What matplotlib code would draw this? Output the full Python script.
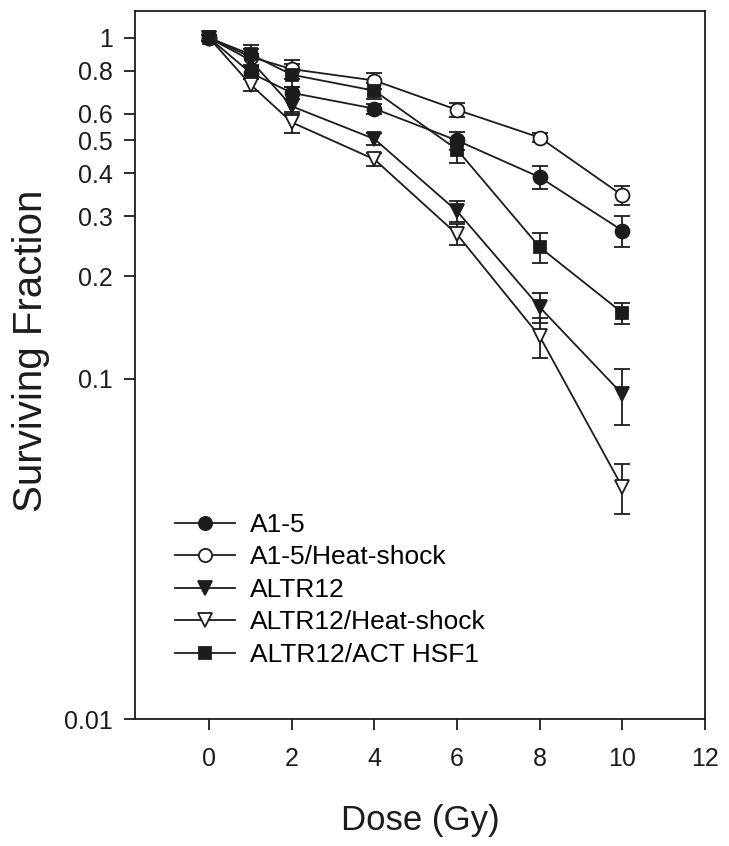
import matplotlib
matplotlib.use("Agg")
import matplotlib.pyplot as plt
from matplotlib.ticker import FixedLocator, FixedFormatter, NullLocator

plt.rcParams['font.family'] = ['Liberation Sans', 'DejaVu Sans']

dose = [0, 1, 2, 4, 6, 8, 10]

a15 = [1.0, 0.79, 0.69, 0.62, 0.50, 0.39, 0.272]
a15_err = [0.02, 0.03, 0.03, 0.02, 0.03, 0.03, 0.028]

a15_hs = [1.0, 0.88, 0.81, 0.75, 0.615, 0.51, 0.345]
a15_hs_err = [0.02, 0.05, 0.05, 0.04, 0.03, 0.015, 0.022]

altr12 = [1.0, 0.86, 0.63, 0.505, 0.31, 0.162, 0.090]
altr12_err = [0.02, 0.04, 0.03, 0.02, 0.022, 0.016, 0.017]

altr12_hs = [1.0, 0.73, 0.565, 0.44, 0.265, 0.133, 0.048]
altr12_hs_err = [0.02, 0.03, 0.04, 0.02, 0.019, 0.018, 0.008]

hsf1 = [1.0, 0.895, 0.78, 0.70, 0.47, 0.243, 0.156]
hsf1_err = [0.02, 0.06, 0.06, 0.04, 0.04, 0.025, 0.011]

labels = ["A1-5", "A1-5/Heat-shock", "ALTR12", "ALTR12/Heat-shock", "ALTR12/ACT HSF1"]
ytick_vals = [0.01, 0.1, 0.2, 0.3, 0.4, 0.5, 0.6, 0.8, 1]
ytick_text = ["0.01", "0.1", "0.2", "0.3", "0.4", "0.5", "0.6", "0.8", "1"]
xtick_vals = [0, 2, 4, 6, 8, 10, 12]

ink = '#1c1c1c'

fig = plt.figure(figsize=(7.29, 8.46), dpi=100)
ax = fig.add_axes([0.185, 0.150, 0.782, 0.837])

series = [
    (a15, a15_err, 'o', ink, 10),
    (a15_hs, a15_hs_err, 'o', 'white', 10),
    (altr12, altr12_err, 'v', ink, 10),
    (altr12_hs, altr12_hs_err, 'v', 'white', 10),
    (hsf1, hsf1_err, 's', ink, 9),
]

for (vals, err, mk, face, ms), lab in zip(series, labels):
    ax.errorbar(dose, vals, yerr=err, fmt='none', ecolor=ink, elinewidth=1.3,
                capsize=6, capthick=1.3, zorder=2)
    ax.plot(dose, vals, color=ink, lw=1.3, marker=mk, markersize=ms,
            markerfacecolor=face, markeredgecolor=ink, markeredgewidth=1.3,
            label=lab, zorder=3)

ax.set_yscale('log')
ax.set_ylim(0.01, 1.2)
ax.set_xlim(-1.8, 12)
ax.yaxis.set_major_locator(FixedLocator(ytick_vals))
ax.yaxis.set_major_formatter(FixedFormatter(ytick_text))
ax.yaxis.set_minor_locator(NullLocator())
ax.set_xticks(xtick_vals)

for s in ax.spines.values():
    s.set_linewidth(1.3)
    s.set_color(ink)
ax.tick_params(axis='both', direction='out', length=8, width=1.3, color=ink,
               labelsize=18, labelcolor=ink)
ax.tick_params(axis='y', pad=8)
ax.tick_params(axis='x', pad=12)

ax.set_xlabel("Dose (Gy)", fontsize=25, color=ink, labelpad=24)
ax.set_ylabel("Surviving Fraction", fontsize=29, color=ink)
ax.yaxis.set_label_coords(-0.149, 0.52)

ax.legend(loc='upper left', bbox_to_anchor=(0.07, 0.291), frameon=False,
          fontsize=19, borderpad=0, borderaxespad=0, labelspacing=0.32,
          handlelength=2.27, handletextpad=0.57, markerscale=0.95)

fig.savefig("out.png", dpi=100)
